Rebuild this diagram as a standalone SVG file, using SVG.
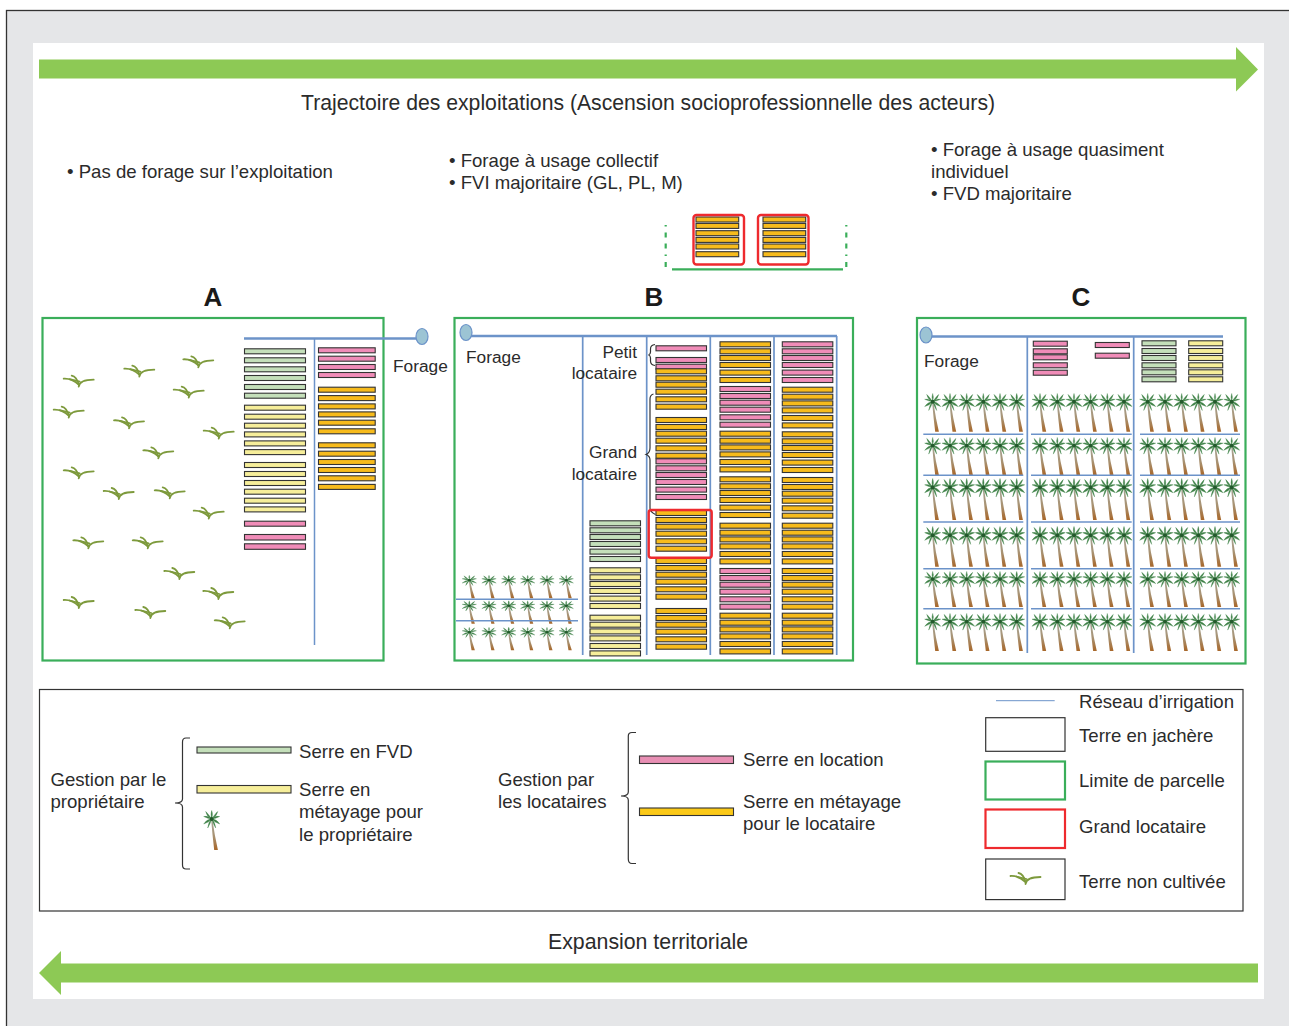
<svg xmlns="http://www.w3.org/2000/svg" xmlns:xlink="http://www.w3.org/1999/xlink" width="1289" height="1026" viewBox="0 0 1289 1026">
<style>
text{font-family:"Liberation Sans",Arial,sans-serif;font-size:18.600px;fill:#2b2b2b}
.h{font-size:26px;font-weight:bold;fill:#1a1a1a;text-anchor:middle}
.e{text-anchor:end}
.lab{font-size:17.300px}
.g{fill:#c4dfba}.y{fill:#f6ee9a}.p{fill:#f08cb8}.o{fill:#f7bb1c}
.st rect,rect.st{stroke:#333;stroke-width:1.100}
.irr{stroke:#6c93c9;stroke-width:1.500;fill:none}
.irrm{stroke:#6c93c9;stroke-width:2.400;fill:none}
.well{fill:#9cc4d4;stroke:#6c93c9;stroke-width:1.200}
.lim{fill:none;stroke:#3aae5a;stroke-width:2.200}
.red{fill:none;stroke:#ee2a2e;stroke-width:2.400}
.br{fill:none;stroke:#333;stroke-width:1.200}
.arrow{fill:#8dc955}
</style>
<defs>
<linearGradient id="tr" gradientUnits="userSpaceOnUse" x1="0" y1="9" x2="0" y2="40"><stop offset="0" stop-color="#a6a69a"/><stop offset="0.55" stop-color="#a89272"/><stop offset="1" stop-color="#a8672a"/></linearGradient>
<g id="palm">
<path d="M-0.6 9Q0.8 26 2.500 40L6.200 40Q3 26 0.6 9Z" fill="url(#tr)"/>
<g fill="#3f8047" stroke="#4f8f58" stroke-width="0.400">
<path d="M0 9Q-4 3-6 1.500Q-5 6.500 0 9Z"/><path d="M0 9Q4 3 6 1.500Q5 6.500 0 9Z"/><path d="M0 9Q-1.500 4 0 0.500Q1.500 4 0 9Z"/>
<path d="M0 9Q-4 5-8 6.500Q-4 8.500 0 9Z"/><path d="M0 9Q4 5 8 6.500Q4 8.500 0 9Z"/>
<path d="M0 9Q-5 9-8 14Q-3 12.500 0 9Z"/><path d="M0 9Q5 9 8 14Q3 12.500 0 9Z"/>
<path d="M0 9Q-3 11-4 18Q-1.500 14 0 9Z"/><path d="M0 9Q3 11 4 18Q1.500 14 0 9Z"/>
</g>
<circle cx="0" cy="9" r="2" fill="#235a2c"/>
</g>
<g id="plant" fill="none" stroke="#7d9a3c" stroke-width="1.800" stroke-linecap="round">
<path d="M-15-3Q-7-3.500 0 3"/><path d="M-7-6Q-2-5 0 3"/><path d="M0 5Q1-2 15-2"/><path d="M-9-2.500L1 0"/>
</g>
<g id="s50" class="st"><rect x="0" y="-2.500" width="50.500" height="5"/><rect x="0" y="4.500" width="50.500" height="5"/><rect x="0" y="11.200" width="50.500" height="5"/><rect x="0" y="18.200" width="50.500" height="5"/><rect x="0" y="25.800" width="50.500" height="5"/><rect x="0" y="33.200" width="50.500" height="5"/></g>
<g id="s61" class="st"><rect x="0" y="-2.500" width="61" height="5"/><rect x="0" y="6.500" width="61" height="5"/><rect x="0" y="15.500" width="61" height="5"/><rect x="0" y="24.200" width="61" height="5"/><rect x="0" y="33.200" width="61" height="5"/><rect x="0" y="41.900" width="61" height="5"/></g>
<g id="s57" class="st"><rect x="0" y="-2.500" width="56.700" height="5"/><rect x="0" y="5.900" width="56.700" height="5"/><rect x="0" y="14.200" width="56.700" height="5"/><rect x="0" y="22.200" width="56.700" height="5"/><rect x="0" y="30.500" width="56.700" height="5"/><rect x="0" y="39.100" width="56.700" height="5"/></g>
<g id="s34" class="st"><rect x="0" y="0" width="34" height="5"/><rect x="0" y="7.700" width="34" height="5"/><rect x="0" y="14.700" width="34" height="5"/><rect x="0" y="22" width="34" height="5"/><rect x="0" y="29" width="34" height="5"/><rect x="0" y="36" width="34" height="5"/></g>
<g id="s42" class="st"><rect x="0" y="0" width="42.700" height="5"/><rect x="0" y="6.400" width="42.700" height="5"/><rect x="0" y="13.700" width="42.700" height="5"/><rect x="0" y="20.400" width="42.700" height="5"/><rect x="0" y="27" width="42.700" height="5"/><rect x="0" y="34.700" width="42.700" height="5"/></g>
<g id="crow6"><use href="#palm" x="0"/><use href="#palm" x="17.300"/><use href="#palm" x="34"/><use href="#palm" x="50.600"/><use href="#palm" x="67.300"/><use href="#palm" x="84"/></g>
<g id="crow"><use href="#crow6" x="932.700"/><use href="#crow6" x="1040"/><use href="#crow6" x="1147.700"/></g>
<g id="brow" transform="scale(0.9 0.58)"><use href="#palm" x="0"/><use href="#palm" x="21.900"/><use href="#palm" x="43.800"/><use href="#palm" x="64.900"/><use href="#palm" x="86.300"/><use href="#palm" x="107.700"/></g>
</defs>

<rect id="frame" x="6.500" y="10.500" width="1320" height="1060" fill="#e5e6e8" stroke="#333" stroke-width="1.300"/>
<rect id="sheet" x="33" y="43" width="1231" height="956" fill="#fff"/>

<g id="arrow-top"><path class="arrow" d="M39 59.500H1236V47L1258 69.500L1236 91.500V78.500H39Z"/><text x="301" y="110" style="font-size:21.200px">Trajectoire des exploitations (Ascension socioprofessionnelle des acteurs)</text></g>
<g id="arrow-bottom"><path class="arrow" d="M1258 963.500H61V951L39 973L61 995V982.500H1258Z"/><text x="548" y="949" style="font-size:21.300px">Expansion territoriale</text></g>

<g id="notes">
<text x="67" y="178">• Pas de forage sur l’exploitation</text>
<text x="449" y="167">• Forage à usage collectif</text>
<text x="449" y="189">• FVI majoritaire (GL, PL, M)</text>
<text x="931" y="156">• Forage à usage quasiment</text>
<text x="931" y="178">individuel</text>
<text x="931" y="200">• FVD majoritaire</text>
</g>

<g id="detail">
<path d="M665.700 225V269M846.300 225V269" fill="none" stroke="#3aae5a" stroke-width="2.200" stroke-dasharray="1.500 6 5 6 5 6"/>
<path d="M672 269.300H843" fill="none" stroke="#3aae5a" stroke-width="2.200"/>
<use href="#s42" x="696" y="217" class="o"/><use href="#s42" x="763" y="217" class="o"/>
<rect class="red" x="693.500" y="215" width="50.500" height="49.500" rx="3"/>
<rect class="red" x="758" y="215" width="50.500" height="49.500" rx="3"/>
</g>

<text class="h" x="213" y="306">A</text><text class="h" x="654" y="306">B</text><text class="h" x="1081" y="306">C</text>

<g id="panel-a">
<rect class="lim" x="42.500" y="318" width="341" height="342.500"/>
<path class="irrm" d="M244 338.500H418"/><path class="irr" d="M314.500 339V645"/>
<ellipse class="well" cx="422" cy="336.500" rx="6" ry="8"/>
<text class="lab" x="393" y="372">Forage</text>
<use href="#s61" x="244.500" y="351.300" class="g"/>
<use href="#s61" x="244.500" y="407.700" class="y"/>
<use href="#s61" x="244.500" y="465" class="y"/>
<g class="st p"><rect x="244.500" y="521.200" width="61" height="5"/><rect x="244.500" y="534.500" width="61" height="5.500"/><rect x="244.500" y="543.800" width="61" height="5.500"/></g>
<g class="st p"><rect x="318.500" y="347.800" width="56.700" height="5"/><rect x="318.500" y="356.200" width="56.700" height="5"/><rect x="318.500" y="364.500" width="56.700" height="5"/><rect x="318.500" y="372.500" width="56.700" height="5"/></g>
<use href="#s57" x="318.500" y="389.700" class="o"/>
<use href="#s57" x="318.500" y="445.300" class="o"/>
<g id="weeds">
<use href="#plant" x="78.700" y="381.700"/><use href="#plant" x="139.300" y="371.700"/><use href="#plant" x="198.300" y="362.300"/><use href="#plant" x="188.700" y="392.700"/><use href="#plant" x="68.700" y="412.700"/><use href="#plant" x="129" y="423.300"/><use href="#plant" x="218.700" y="433.700"/><use href="#plant" x="158.300" y="453.300"/><use href="#plant" x="78.700" y="473.300"/><use href="#plant" x="118.700" y="494"/><use href="#plant" x="169.700" y="493.300"/><use href="#plant" x="208.700" y="513.700"/><use href="#plant" x="88.300" y="543.300"/><use href="#plant" x="147.700" y="543.300"/><use href="#plant" x="179.300" y="574"/><use href="#plant" x="218.300" y="594"/><use href="#plant" x="78.700" y="603"/><use href="#plant" x="150.300" y="613"/><use href="#plant" x="229.700" y="623.300"/>
</g>
</g>

<g id="panel-b">
<rect class="lim" x="454.500" y="318" width="398.500" height="342.500"/>
<g id="palms-b">
<use href="#brow" transform="translate(469.300 575)"/>
<use href="#brow" transform="translate(469.300 600.500)"/>
<use href="#brow" transform="translate(469.300 627)"/>
</g>
<path class="irr" d="M456 599.300H578M456 620.700H578"/>
<path class="irr" d="M582.700 336V655M646.700 336V655M710.300 336V655M774 336V655M836.700 336V655" style="stroke-width:1.700"/>
<path class="irrm" d="M466 336H837"/>
<ellipse class="well" cx="466" cy="332.500" rx="6" ry="8"/>
<text class="lab" x="466" y="363">Forage</text>
<text class="e lab" x="637" y="358">Petit</text><text class="e lab" x="637" y="379">locataire</text>
<text class="e lab" x="637" y="458">Grand</text><text class="e lab" x="637" y="480">locataire</text>
<use href="#s50" x="590" y="523.300" class="g"/><use href="#s50" x="590" y="570.300" class="y"/><use href="#s50" x="590" y="617.700" class="y"/>
<g class="st p"><rect x="656" y="345.800" width="50.500" height="5"/><rect x="656" y="357.500" width="50.500" height="5"/><rect x="656" y="364.200" width="50.500" height="5"/></g>
<g class="st o"><rect x="656" y="368.800" width="50.500" height="5"/><rect x="656" y="375.800" width="50.500" height="5"/><rect x="656" y="382.200" width="50.500" height="5"/><rect x="656" y="389.200" width="50.500" height="5"/><rect x="656" y="396.800" width="50.500" height="5"/><rect x="656" y="404.200" width="50.500" height="5"/></g>
<use href="#s50" x="656" y="420" class="o"/><use href="#s50" x="656" y="461.300" class="p"/><use href="#s50" x="656" y="513" class="o"/><use href="#s50" x="656" y="561" class="o"/><use href="#s50" x="656" y="611" class="o"/>
<use href="#s50" x="720" y="344.300" class="o"/><use href="#s50" x="720" y="389" class="p"/><use href="#s50" x="720" y="433.700" class="o"/><use href="#s50" x="720" y="479.300" class="o"/><use href="#s50" x="720" y="525.700" class="o"/><use href="#s50" x="720" y="571" class="p"/><use href="#s50" x="720" y="615.700" class="o"/>
<use href="#s50" x="782.300" y="344.300" class="p"/><use href="#s50" x="782.300" y="389.700" class="o"/><use href="#s50" x="782.300" y="434.300" class="o"/><use href="#s50" x="782.300" y="480" class="o"/><use href="#s50" x="782.300" y="525.700" class="o"/><use href="#s50" x="782.300" y="571" class="o"/><use href="#s50" x="782.300" y="615.700" class="o"/>
<path class="br" d="M655 344.500Q650.500 345 650.500 349V352Q650.500 354.500 648.500 355Q650.500 355.500 650.500 358V361Q650.500 365 655 365.500"/>
<path class="br" d="M653.500 394Q650 395 650 399V448Q650 453 646 454.500Q650 456 650 460V508Q650 512 655.500 514.500"/>
<rect class="red" x="648.700" y="510" width="63" height="47.700" rx="2.500"/>
</g>

<g id="panel-c">
<rect class="lim" x="917" y="318" width="328.500" height="345.500"/>
<g id="palms-c">
<use href="#crow" transform="translate(0 393) scale(1 .97)"/>
<use href="#crow" transform="translate(0 437) scale(1 .95)"/>
<use href="#crow" transform="translate(0 478) scale(1 1.050)"/>
<use href="#crow" transform="translate(0 526) scale(1 1.020)"/>
<use href="#crow" transform="translate(0 571) scale(1 .9)"/>
<use href="#crow" transform="translate(0 613) scale(1 .95)"/>
</g>
<path class="irr" d="M923.300 434.300H1023.300M1031 434.300H1131.700M1140 434.300H1240M923.300 475.300H1023.300M1031 475.300H1131.700M1140 475.300H1240M923.300 522H1023.300M1031 522H1131.700M1140 522H1240M923.300 568.700H1023.300M1031 568.700H1131.700M1140 568.700H1240M923.300 608.700H1023.300M1031 608.700H1131.700M1140 608.700H1240"/>
<path class="irr" d="M1027.300 336V653M1133.700 336V653" style="stroke-width:1.700"/>
<path class="irrm" d="M926 336.500H1223"/>
<ellipse class="well" cx="926" cy="335" rx="6" ry="8"/>
<text class="lab" x="924" y="367">Forage</text>
<g class="st p"><rect x="1033.300" y="341.200" width="34" height="5"/><rect x="1033.300" y="348.800" width="34" height="5"/><rect x="1033.300" y="354.800" width="34" height="5"/><rect x="1033.300" y="362.800" width="34" height="5"/><rect x="1033.300" y="370.200" width="34" height="5"/><rect x="1095.300" y="342.500" width="34" height="5"/><rect x="1095.300" y="353.200" width="34" height="5"/></g>
<use href="#s34" x="1142" y="340.800" class="g"/><use href="#s34" x="1188.700" y="340.800" class="y"/>
</g>

<g id="legend">
<rect x="39.500" y="689.500" width="1203.500" height="221.500" fill="none" stroke="#333" stroke-width="1.200"/>
<g id="legend-owner">
<text x="50.500" y="786">Gestion par le</text><text x="50.500" y="807.500">propriétaire</text>
<path class="br" d="M190 738H186Q182.500 738 182.500 742V799Q182.500 803 175 803Q182.500 803 182.500 807V865Q182.500 869 186 869H190"/>
<rect class="st g" x="197" y="747" width="94" height="6"/>
<rect class="st y" x="197" y="785.500" width="94" height="7.500"/>
<use href="#palm" transform="translate(211.700 810)"/>
<text x="299" y="758">Serre en FVD</text><text x="299" y="796">Serre en</text><text x="299" y="818">métayage pour</text><text x="299" y="841">le propriétaire</text>
</g>
<g id="legend-tenant">
<text x="498" y="786">Gestion par</text><text x="498" y="807.500">les locataires</text>
<path class="br" d="M636 732.500H632Q628.300 732.500 628.300 736V792Q628.300 796 621 796Q628.300 796 628.300 800V859Q628.300 863.500 632 863.500H636"/>
<rect class="st" x="639.500" y="756" width="94" height="7.500" fill="#e88fb4"/>
<rect class="st" x="639.500" y="808" width="94" height="7.500" fill="#fbc918"/>
<text x="743" y="766">Serre en location</text><text x="743" y="807.500">Serre en métayage</text><text x="743" y="829.500">pour le locataire</text>
</g>
<g id="legend-keys">
<path d="M996 700.700H1054.700" fill="none" stroke="#6c93c9" stroke-width="1"/>
<rect x="985.700" y="717.700" width="79.300" height="33.600" fill="none" stroke="#333" stroke-width="1.200"/>
<rect x="985.500" y="761.500" width="79.500" height="38" fill="none" stroke="#3aae5a" stroke-width="2.200"/>
<rect x="985.500" y="809.500" width="79.500" height="38.500" fill="none" stroke="#ee2a2e" stroke-width="2.200"/>
<rect x="985.700" y="859" width="79.300" height="40.600" fill="none" stroke="#333" stroke-width="1.200"/>
<use href="#plant" x="1025.500" y="879"/>
<text x="1079" y="708">Réseau d’irrigation</text><text x="1079" y="742">Terre en jachère</text><text x="1079" y="787">Limite de parcelle</text><text x="1079" y="833">Grand locataire</text><text x="1079" y="888">Terre non cultivée</text>
</g>
</g>
</svg>
